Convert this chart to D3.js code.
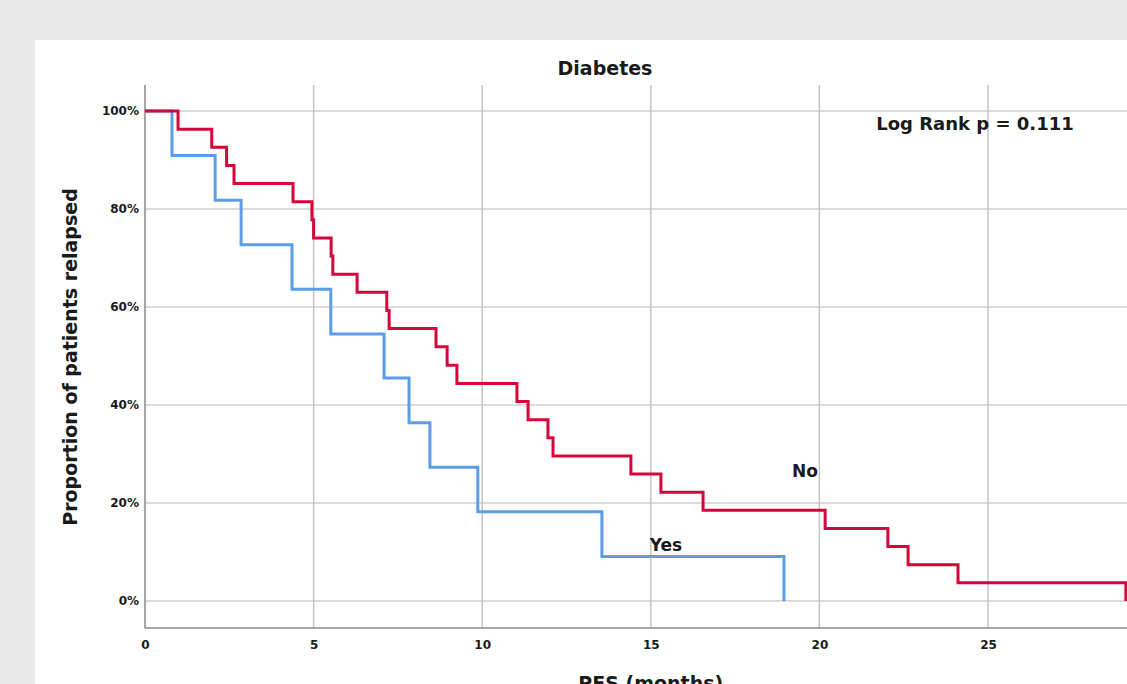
<!doctype html>
<html lang="en">
<head>
<meta charset="utf-8">
<title>Diabetes - PFS</title>
<script src="https://d3js.org/d3.v7.min.js"></script>
<style>
  body { margin: 0; background: #e9e9e9; overflow: hidden; }
  svg { display: block; }
  text { font-family: "DejaVu Sans", sans-serif; font-weight: bold; fill: #1a1a1a; }
</style>
</head>
<body>
<script>
// step curves (time in months, proportion in %)
const noTimes = [0, 0.98, 1.98, 2.42, 2.64, 4.39, 4.95, 5.0, 5.52, 5.57, 6.29, 7.17, 7.24, 8.63, 8.96, 9.25,
                 11.03, 11.36, 11.95, 12.10, 14.41, 15.30, 16.55, 20.17, 22.03, 22.63, 24.11, 29.09];
const noSurv  = [100, 96.3, 92.6, 88.9, 85.2, 81.5, 77.8, 74.1, 70.4, 66.7, 63.0, 59.3, 55.6, 51.9, 48.1, 44.4,
                 40.7, 37.0, 33.3, 29.6, 25.9, 22.2, 18.5, 14.8, 11.1, 7.4, 3.7, 0];
const yesTimes = [0, 0.80, 2.08, 2.85, 4.36, 5.51, 7.09, 7.83, 8.45, 9.87, 13.55, 18.95];
const yesSurv  = [100, 90.9, 81.8, 72.7, 63.6, 54.5, 45.5, 36.4, 27.3, 18.2, 9.1, 0];

// the 30 tick sits just past the visible edge, so only 0..25 are labelled
const xTicks = [0, 5, 10, 15, 20, 25];
const yTicks = [0, 20, 40, 60, 80, 100];

const W = 1127, H = 684;
const svg = d3.select("body").append("svg").attr("width", W).attr("height", H);

// white chart panel
svg.append("rect").attr("x", 35).attr("y", 40).attr("width", W).attr("height", H).attr("fill", "#fff");

const x = d3.scaleLinear().domain([0, 30]).range([145, 1156.6]);
const y = d3.scaleLinear().domain([0, 100]).range([601, 111]);
const plotTop = 85, plotBottom = 628;

// gridlines
svg.append("g").selectAll("line").data(yTicks).join("line")
  .attr("x1", x(0)).attr("x2", W)
  .attr("y1", d => y(d)).attr("y2", d => y(d))
  .attr("stroke", "#cfcfcf").attr("stroke-width", 1.5);
svg.append("g").selectAll("line").data(xTicks.slice(1)).join("line")
  .attr("x1", d => x(d)).attr("x2", d => x(d))
  .attr("y1", plotTop).attr("y2", plotBottom)
  .attr("stroke", "#c4c4c4").attr("stroke-width", 1.5);

// axes (no tick marks, just labels)
const xAxis = svg.append("g").attr("transform", `translate(0,${plotBottom})`)
  .call(d3.axisBottom(x).tickValues(xTicks).tickSize(0).tickPadding(12));
const yAxis = svg.append("g").attr("transform", `translate(${x(0)},0)`)
  .call(d3.axisLeft(y).tickValues(yTicks).tickSize(0).tickPadding(6).tickFormat(d => d + "%"));
[xAxis, yAxis].forEach(a => {
  a.select(".domain").remove();
  a.selectAll("text").style("font-size", "12px").attr("fill", "#1a1a1a");
});
svg.append("line").attr("x1", x(0)).attr("x2", x(0)).attr("y1", plotTop).attr("y2", plotBottom)
  .attr("stroke", "#8a8a8a").attr("stroke-width", 1.5);
svg.append("line").attr("x1", x(0)).attr("x2", W).attr("y1", plotBottom).attr("y2", plotBottom)
  .attr("stroke", "#8a8a8a").attr("stroke-width", 1.5);

// step lines
const line = d3.line().x(d => x(d[0])).y(d => y(d[1])).curve(d3.curveStepAfter);
svg.append("path").datum(d3.zip(yesTimes, yesSurv)).attr("d", line)
  .attr("fill", "none").attr("stroke", "#5c9de8").attr("stroke-width", 3);
svg.append("path").datum(d3.zip(noTimes, noSurv)).attr("d", line)
  .attr("fill", "none").attr("stroke", "#d5063b").attr("stroke-width", 3);

// texts
svg.append("text").attr("x", 605).attr("y", 75).attr("text-anchor", "middle")
  .style("font-size", "19px").text("Diabetes");
svg.append("text").attr("transform", "translate(77,357) rotate(-90)").attr("text-anchor", "middle")
  .style("font-size", "19px").text("Proportion of patients relapsed");
svg.append("text").attr("x", (x(0) + x(30)) / 2).attr("y", 690).attr("text-anchor", "middle")
  .style("font-size", "19px").text("PFS (months)");
svg.append("text").attr("x", 975).attr("y", 130).attr("text-anchor", "middle")
  .style("font-size", "18px").text("Log Rank p = 0.111");
svg.append("text").attr("x", 805).attr("y", 477).attr("text-anchor", "middle")
  .style("font-size", "17px").text("No");
svg.append("text").attr("x", 666).attr("y", 551).attr("text-anchor", "middle")
  .style("font-size", "17px").text("Yes");
</script>
</body>
</html>
